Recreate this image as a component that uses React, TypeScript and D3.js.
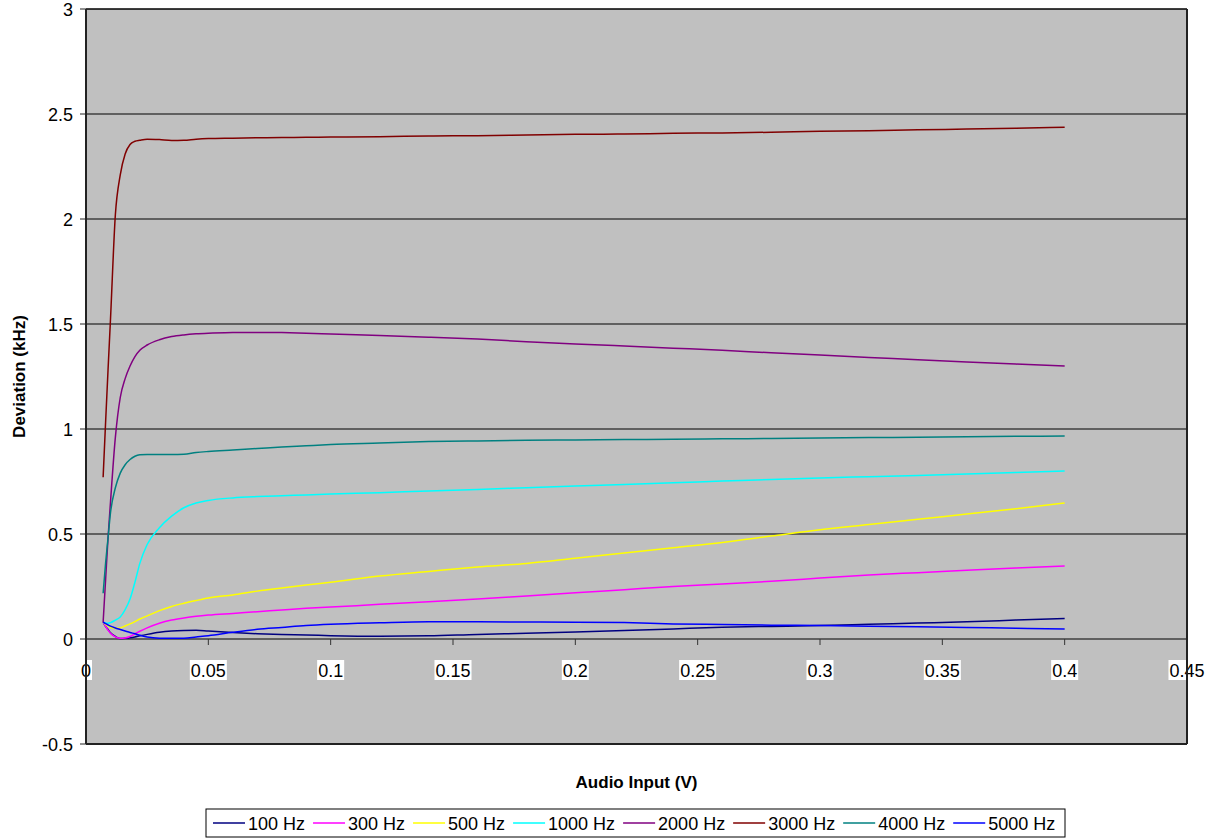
import React from "react";
import * as d3 from "d3";

const xValues = [0.007, 0.008, 0.009, 0.010, 0.012, 0.014, 0.016, 0.018, 0.020, 0.022, 0.025, 0.03, 0.035, 0.04, 0.045, 0.05, 0.06, 0.07, 0.08, 0.09, 0.1, 0.12, 0.14, 0.16, 0.18, 0.2, 0.22, 0.24, 0.26, 0.28, 0.3, 0.32, 0.34, 0.36, 0.38, 0.4];

const s100 = [0.08, 0.06, 0.045, 0.03, 0.012, 0.002, 0.003, 0.006, 0.01, 0.015, 0.022, 0.032, 0.038, 0.041, 0.042, 0.038, 0.031, 0.025, 0.021, 0.019, 0.016, 0.013, 0.015, 0.022, 0.027, 0.033, 0.04, 0.048, 0.056, 0.06, 0.064, 0.07, 0.076, 0.082, 0.09, 0.098];
const s300 = [0.08, 0.06, 0.042, 0.027, 0.01, 0.003, 0.005, 0.012, 0.025, 0.037, 0.053, 0.075, 0.09, 0.1, 0.108, 0.114, 0.122, 0.13, 0.138, 0.146, 0.152, 0.165, 0.177, 0.19, 0.205, 0.22, 0.235, 0.25, 0.262, 0.275, 0.29, 0.305, 0.316, 0.327, 0.338, 0.348];
const s500 = [0.08, 0.07, 0.062, 0.056, 0.051, 0.053, 0.062, 0.072, 0.083, 0.095, 0.11, 0.135, 0.155, 0.17, 0.183, 0.195, 0.21, 0.228, 0.243, 0.257, 0.27, 0.3, 0.322, 0.343, 0.36, 0.385, 0.41, 0.435, 0.46, 0.49, 0.52, 0.545, 0.57, 0.595, 0.62, 0.648];
const s1000 = [0.08, 0.077, 0.075, 0.078, 0.09, 0.105, 0.14, 0.19, 0.27, 0.36, 0.45, 0.53, 0.585, 0.625, 0.648, 0.66, 0.672, 0.678, 0.682, 0.686, 0.69, 0.697, 0.705, 0.712, 0.72, 0.728, 0.736, 0.744, 0.752, 0.76, 0.767, 0.773, 0.779, 0.786, 0.793, 0.8];
const s2000 = [0.08, 0.28, 0.48, 0.65, 0.96, 1.15, 1.24, 1.3, 1.345, 1.375, 1.4, 1.425, 1.44, 1.448, 1.453, 1.456, 1.459, 1.46, 1.459, 1.456, 1.452, 1.445, 1.437, 1.428, 1.416, 1.405, 1.395, 1.385, 1.375, 1.363, 1.352, 1.341, 1.33, 1.319, 1.309, 1.3];
const s3000 = [0.77, 1.03, 1.28, 1.52, 2.02, 2.21, 2.31, 2.355, 2.37, 2.375, 2.38, 2.378, 2.374, 2.375, 2.38, 2.383, 2.385, 2.387, 2.388, 2.389, 2.39, 2.392, 2.395, 2.397, 2.4, 2.403, 2.405, 2.408, 2.41, 2.413, 2.418, 2.42, 2.425, 2.428, 2.432, 2.437];
const s4000 = [0.218, 0.36, 0.48, 0.6, 0.72, 0.79, 0.83, 0.855, 0.87, 0.877, 0.879, 0.879, 0.879, 0.88, 0.888, 0.893, 0.9, 0.907, 0.914, 0.92, 0.926, 0.933, 0.94, 0.943, 0.946, 0.948, 0.95, 0.951, 0.953, 0.955, 0.957, 0.959, 0.961, 0.963, 0.965, 0.967];
const s5000 = [0.08, 0.073, 0.067, 0.061, 0.052, 0.045, 0.038, 0.031, 0.025, 0.018, 0.01, 0.004, 0.003, 0.004, 0.01, 0.016, 0.032, 0.046, 0.055, 0.064, 0.07, 0.077, 0.082, 0.082, 0.081, 0.08, 0.078, 0.072, 0.069, 0.066, 0.064, 0.061, 0.058, 0.055, 0.051, 0.048];

const seriesNames = ["100 Hz", "300 Hz", "500 Hz", "1000 Hz", "2000 Hz", "3000 Hz", "4000 Hz", "5000 Hz"];
const seriesValues = [s100, s300, s500, s1000, s2000, s3000, s4000, s5000];
const seriesColors = ["#000080", "#FF00FF", "#FFFF00", "#00FFFF", "#800080", "#800000", "#008080", "#0000FF"];

const xTicks = [0, 0.05, 0.1, 0.15, 0.2, 0.25, 0.3, 0.35, 0.4, 0.45];
const xTickLabels = ["0", "0.05", "0.1", "0.15", "0.2", "0.25", "0.3", "0.35", "0.4", "0.45"];
const yTicks = [-0.5, 0, 0.5, 1, 1.5, 2, 2.5, 3];
const yTickLabels = ["-0.5", "0", "0.5", "1", "1.5", "2", "2.5", "3"];

const FONT = "Liberation Sans, Arial, sans-serif";
const FS = 18;

export default function App() {
  const W = 1217, H = 840;
  const left = 86, right = 1187, top = 9, bottom = 744;
  const x = d3.scaleLinear().domain([0, 0.45]).range([left, right]);
  const y = d3.scaleLinear().domain([-0.5, 3]).range([bottom, top]);
  const line = d3.line<[number, number]>().x(d => x(d[0])).y(d => y(d[1])).curve(d3.curveMonotoneX);

  const charW = (s: string, fs: number) => {
    let w = 0;
    for (const c of s) {
      if (c >= "0" && c <= "9") w += 0.556;
      else if (c === ".") w += 0.278;
      else if (c === "-") w += 0.333;
      else if (c === " ") w += 0.278;
      else if (c === "H") w += 0.722;
      else if (c === "z") w += 0.5;
      else w += 0.556;
    }
    return w * fs;
  };

  // legend layout
  const legLeft = 206, legRight = 1065, legTop = 809, legBottom = 837;
  let cur = legLeft + 7;
  const legendItems = seriesNames.map((n, i) => {
    const item = { name: n, color: seriesColors[i], x0: cur };
    cur += 35 + charW(n, FS) + 8;
    return item;
  });
  const legMid = (legTop + legBottom) / 2;

  return (
    <svg width={W} height={H} style={{ position: "absolute", left: 0, top: 0, background: "#fff" }}>
      <rect x={left} y={top} width={right - left} height={bottom - top} fill="#C0C0C0" />
      {yTicks.filter(v => v > 0 && v < 3).map(v => (
        <line key={"g" + v} x1={left} x2={right} y1={y(v)} y2={y(v)} stroke="#000" strokeWidth={1} />
      ))}
      {/* x axis at 0 */}
      <line x1={left} x2={right} y1={y(0)} y2={y(0)} stroke="#606060" strokeWidth={2} />
      {xTicks.map(v => (
        <line key={"xt" + v} x1={x(v)} x2={x(v)} y1={y(0)} y2={y(0) + 6} stroke="#333" strokeWidth={1} />
      ))}
      {/* series */}
      {seriesValues.map((vals, i) => (
        <path key={seriesNames[i]} d={line(xValues.map((xv, j) => [xv, vals[j]] as [number, number])) || ""}
          fill="none" stroke={seriesColors[i]} strokeWidth={1.5} />
      ))}
      {/* x tick labels */}
      {xTicks.map((v, i) => {
        const w = charW(xTickLabels[i], FS);
        return (
          <g key={"xl" + v}>
            <rect x={x(v) - w / 2 - 1} y={660} width={w + 2} height={20} fill="#fff" />
            <text x={x(v)} y={677} fontSize={FS} fontFamily={FONT} textAnchor="middle" fill="#000">{xTickLabels[i]}</text>
          </g>
        );
      })}
      {/* plot border */}
      <line x1={left} x2={right} y1={top} y2={top} stroke="#000" strokeWidth={1.5} />
      <line x1={right} x2={right} y1={top} y2={bottom} stroke="#222" strokeWidth={2} />
      <line x1={left} x2={right} y1={bottom} y2={bottom} stroke="#222" strokeWidth={2} />
      <line x1={left} x2={left} y1={top} y2={bottom} stroke="#222" strokeWidth={2} />
      {/* y ticks and labels */}
      {yTicks.map((v, i) => (
        <g key={"yt" + v}>
          <line x1={left - 6} x2={left} y1={y(v)} y2={y(v)} stroke="#222" strokeWidth={1} />
          <text x={73} y={y(v) + 6.5} fontSize={FS} fontFamily={FONT} textAnchor="end" fill="#000">{yTickLabels[i]}</text>
        </g>
      ))}
      {/* axis titles */}
      <text x={(left + right) / 2} y={788} fontSize={17} fontWeight="bold" fontFamily={FONT} textAnchor="middle">Audio Input (V)</text>
      <text transform={`translate(25, ${(top + bottom) / 2}) rotate(-90)`} fontSize={17} fontWeight="bold" fontFamily={FONT} textAnchor="middle">Deviation (kHz)</text>
      {/* legend */}
      <rect x={legLeft} y={legTop} width={legRight - legLeft} height={legBottom - legTop} fill="#fff" stroke="#000" strokeWidth={1} />
      {legendItems.map(it => (
        <g key={"lg" + it.name}>
          <line x1={it.x0} x2={it.x0 + 32} y1={legMid} y2={legMid} stroke={it.color} strokeWidth={1.5} />
          <text x={it.x0 + 35} y={legMid + 6.5} fontSize={FS} fontFamily={FONT} fill="#000">{it.name}</text>
        </g>
      ))}
    </svg>
  );
}
